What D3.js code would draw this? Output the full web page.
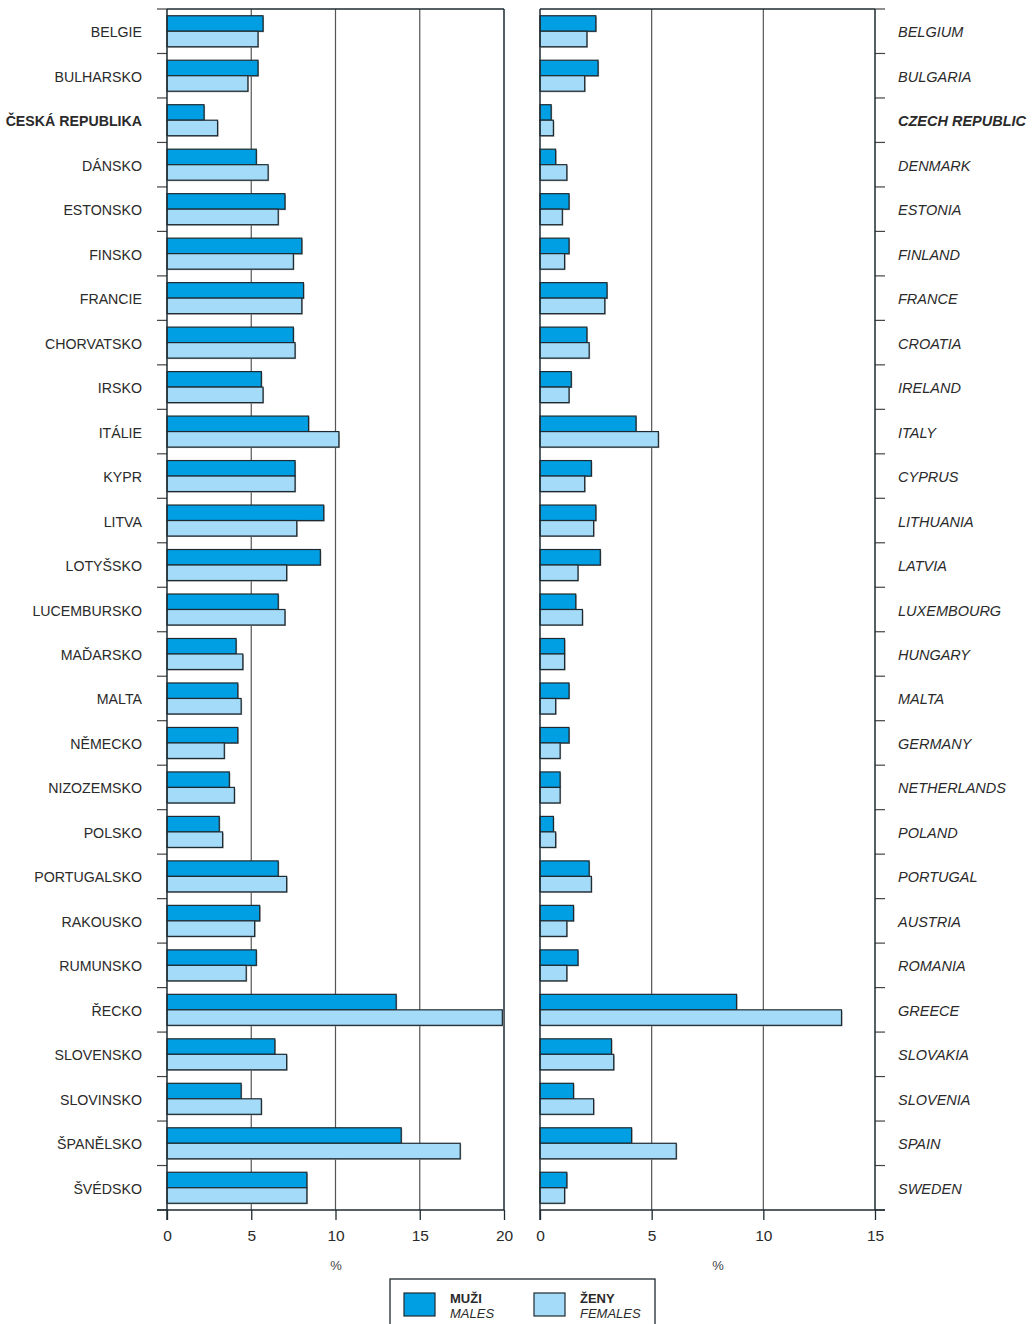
<!DOCTYPE html>
<html>
<head>
<meta charset="utf-8">
<script src="https://cdn.jsdelivr.net/npm/d3@7"></script>
<style>
  html, body { margin: 0; padding: 0; background: #fff; }
  svg { display: block; font-family: "Liberation Sans", Arial, Helvetica, sans-serif; }
</style>
</head>
<body>
<svg id="chart" width="1035" height="1324"></svg>
<script>
const countriesCZ = ["BELGIE","BULHARSKO","ČESKÁ REPUBLIKA","DÁNSKO","ESTONSKO","FINSKO","FRANCIE","CHORVATSKO","IRSKO","ITÁLIE","KYPR","LITVA","LOTYŠSKO","LUCEMBURSKO","MAĎARSKO","MALTA","NĚMECKO","NIZOZEMSKO","POLSKO","PORTUGALSKO","RAKOUSKO","RUMUNSKO","ŘECKO","SLOVENSKO","SLOVINSKO","ŠPANĚLSKO","ŠVÉDSKO"];
const countriesEN = ["BELGIUM","BULGARIA","CZECH REPUBLIC","DENMARK","ESTONIA","FINLAND","FRANCE","CROATIA","IRELAND","ITALY","CYPRUS","LITHUANIA","LATVIA","LUXEMBOURG","HUNGARY","MALTA","GERMANY","NETHERLANDS","POLAND","PORTUGAL","AUSTRIA","ROMANIA","GREECE","SLOVAKIA","SLOVENIA","SPAIN","SWEDEN"];
const highlightIndex = 2;

// Left panel (%)
const leftMales   = [5.7,5.4,2.2,5.3,7.0,8.0,8.1,7.5,5.6,8.4,7.6,9.3,9.1,6.6,4.1,4.2,4.2,3.7,3.1,6.6,5.5,5.3,13.6,6.4,4.4,13.9,8.3];
const leftFemales = [5.4,4.8,3.0,6.0,6.6,7.5,8.0,7.6,5.7,10.2,7.6,7.7,7.1,7.0,4.5,4.4,3.4,4.0,3.3,7.1,5.2,4.7,19.9,7.1,5.6,17.4,8.3];
// Right panel (%)
const rightMales   = [2.5,2.6,0.5,0.7,1.3,1.3,3.0,2.1,1.4,4.3,2.3,2.5,2.7,1.6,1.1,1.3,1.3,0.9,0.6,2.2,1.5,1.7,8.8,3.2,1.5,4.1,1.2];
const rightFemales = [2.1,2.0,0.6,1.2,1.0,1.1,2.9,2.2,1.3,5.3,2.0,2.4,1.7,1.9,1.1,0.7,0.9,0.9,0.7,2.3,1.2,1.2,13.5,3.3,2.4,6.1,1.1];

const leftTicks = [0,5,10,15,20];
const rightTicks = [0,5,10,15];
const axisTitle = "%";
const legendItems = [
  {cz: "MUŽI", en: "MALES", key: "m"},
  {cz: "ŽENY", en: "FEMALES", key: "f"}
];

const colMale = "#009fe3";
const colFemale = "#a4dbf8";
const colStroke = "#1e2a30";
const colText = "#2a2a2a";

const svg = d3.select("#chart");
const yTop = 9, yBottom = 1210;

const y = d3.scaleBand().domain(d3.range(countriesCZ.length)).range([yTop, yBottom]).padding(0);
const barH = 15.5;

function panel(x0, x1, domainMax, ticks, males, females, tickSide, titleX) {
  const x = d3.scaleLinear().domain([0, domainMax]).range([x0, x1]);
  const g = svg.append("g");

  // gridlines
  g.selectAll("line.grid").data(ticks.filter(t => t > 0 && t < domainMax)).enter()
    .append("line")
    .attr("x1", d => x(d)).attr("x2", d => x(d))
    .attr("y1", yTop).attr("y2", yBottom)
    .attr("stroke", "#555").attr("stroke-width", 1.2);

  // row tick marks
  const bounds = d3.range(countriesCZ.length + 1).map(i => yTop + i * y.step());
  g.selectAll("line.rt").data(bounds).enter().append("line")
    .attr("x1", tickSide === "left" ? x0 - 10 : x1)
    .attr("x2", tickSide === "left" ? x0 : x1 + 10)
    .attr("y1", d => d).attr("y2", d => d)
    .attr("stroke", "#444").attr("stroke-width", 1.2);

  // frame
  g.append("line").attr("x1", x0).attr("x2", x1).attr("y1", yTop).attr("y2", yTop)
    .attr("stroke", colStroke).attr("stroke-width", 1.5);
  g.append("line").attr("x1", x1).attr("x2", x1).attr("y1", yTop).attr("y2", yBottom)
    .attr("stroke", colStroke).attr("stroke-width", 1.5);

  // bars
  const rows = d3.range(countriesCZ.length);
  const drawBars = (vals, off, fill) => {
    g.selectAll(null).data(rows).enter().append("rect")
      .attr("x", x(0) + 1).attr("y", i => y(i) + y.bandwidth() / 2 + off + 1)
      .attr("width", i => x(vals[i]) - x(0)).attr("height", barH)
      .attr("fill", "#9a9a9a");
    g.selectAll(null).data(rows).enter().append("rect")
      .attr("x", x(0)).attr("y", i => y(i) + y.bandwidth() / 2 + off)
      .attr("width", i => x(vals[i]) - x(0)).attr("height", barH)
      .attr("fill", fill).attr("stroke", colStroke).attr("stroke-width", 1.2);
  };
  drawBars(males, -barH, colMale);
  drawBars(females, 0, colFemale);

  // left axis line
  g.append("line").attr("x1", x0).attr("x2", x0).attr("y1", yTop).attr("y2", yBottom + 10)
    .attr("stroke", colStroke).attr("stroke-width", 1.5);

  // bottom axis
  const ax = d3.axisBottom(x).tickValues(ticks).tickSize(10).tickPadding(10).tickSizeOuter(0);
  const axg = g.append("g").attr("transform", `translate(0,${yBottom})`).call(ax);
  axg.select(".domain").remove();
  axg.selectAll(".tick line").attr("stroke", colStroke).attr("stroke-width", 1.3);
  axg.selectAll(".tick text").attr("font-size", 15.5).attr("fill", colText)
    .attr("font-family", "Liberation Sans, Arial, sans-serif");
  const ext0 = tickSide === "left" ? x0 - 10 : x0;
  const ext1 = tickSide === "left" ? x1 : x1 + 10;
  g.append("line").attr("x1", ext0).attr("x2", ext1).attr("y1", yBottom).attr("y2", yBottom)
    .attr("stroke", colStroke).attr("stroke-width", 1.5);

  g.append("text").attr("x", titleX).attr("y", 1270)
    .attr("text-anchor", "middle").attr("font-size", 13).attr("fill", "#444").text(axisTitle);
  return x;
}

panel(167, 504, 20, leftTicks, leftMales, leftFemales, "left", 336);
panel(540, 875, 15, rightTicks, rightMales, rightFemales, "right", 718);

// labels
svg.append("g").selectAll("text").data(countriesCZ).enter().append("text")
  .attr("x", 142).attr("y", (d, i) => y(i) + y.bandwidth() / 2 + 6)
  .attr("text-anchor", "end").attr("font-size", 14.2).attr("fill", colText)
  .attr("font-weight", (d, i) => i === highlightIndex ? "bold" : "normal")
  .text(d => d);
svg.append("g").selectAll("text").data(countriesEN).enter().append("text")
  .attr("x", 898).attr("y", (d, i) => y(i) + y.bandwidth() / 2 + 6)
  .attr("text-anchor", "start").attr("font-size", 14.5).attr("fill", colText)
  .attr("font-style", "italic")
  .attr("font-weight", (d, i) => i === highlightIndex ? "bold" : "normal")
  .text(d => d);

// legend
const lg = svg.append("g");
lg.append("rect").attr("x", 390).attr("y", 1279).attr("width", 265).attr("height", 60)
  .attr("fill", "#fff").attr("stroke", colStroke).attr("stroke-width", 1.3);
const legX = [404, 534];
legendItems.forEach((it, i) => {
  lg.append("rect").attr("x", legX[i]).attr("y", 1293).attr("width", 31).attr("height", 23)
    .attr("fill", it.key === "m" ? colMale : colFemale).attr("stroke", colStroke).attr("stroke-width", 1.2);
  lg.append("text").attr("x", legX[i] + 46).attr("y", 1303).attr("font-size", 13)
    .attr("font-weight", "bold").attr("fill", colText).text(it.cz);
  lg.append("text").attr("x", legX[i] + 46).attr("y", 1318).attr("font-size", 13)
    .attr("font-style", "italic").attr("fill", colText).text(it.en);
});
</script>
</body>
</html>
